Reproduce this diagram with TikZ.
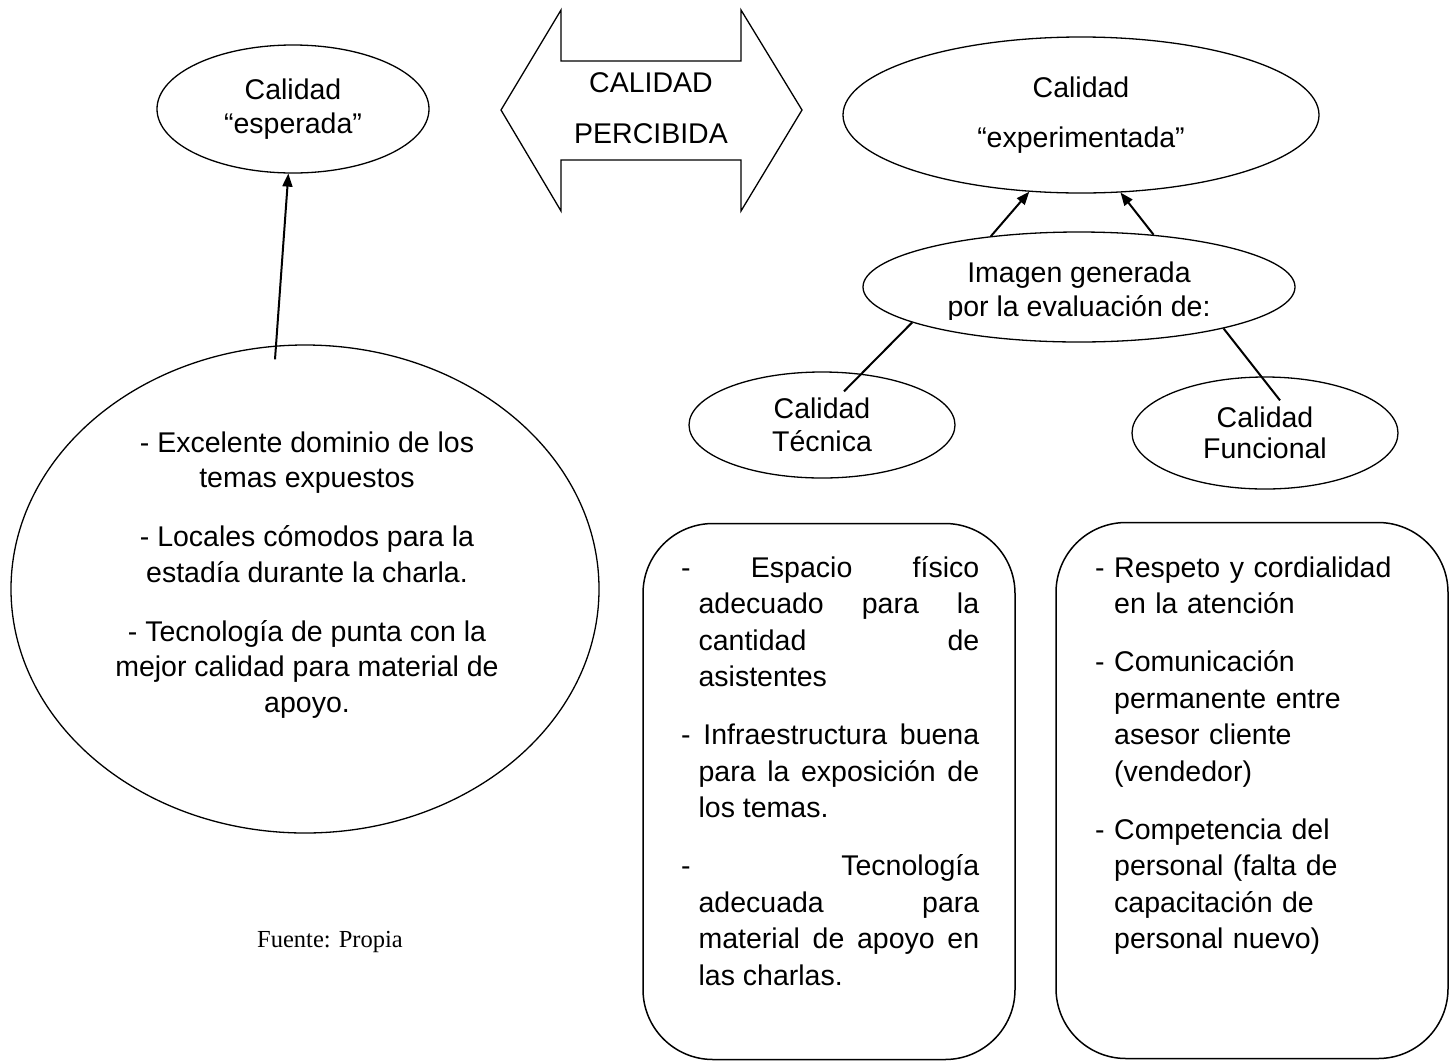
\documentclass[tikz,border=0pt]{standalone}
\usepackage{fontspec}
\setmainfont{Liberation Sans}
\newfontfamily\fuentefam{Liberation Serif}
\usetikzlibrary{shapes.geometric,arrows.meta,positioning}

\newlength\guionw
\newcommand{\guion}{\hangindent=\guionw\hangafter=1\relax\strut-\ }

\begin{document}
\begin{tikzpicture}[x=1pt,y=-1pt,
  elip/.style={ellipse,draw,line width=1.3pt,inner sep=0pt,align=center},
  caja/.style={draw,line width=1.5pt,rounded corners=70pt,minimum height=536pt},
  lista/.style={inner sep=0pt,anchor=north west,font=\fontsize{28.5}{36.5}\selectfont,
    execute at begin node={\setlength\parskip{21.5pt}\settowidth\guionw{-\ }\tolerance=10000 \hbadness=10000 }},
  flecha/.style={line width=2pt,-{Triangle[length=13pt,width=10pt]}},
  linea/.style={line width=2pt}]
\useasboundingbox (0,0) rectangle (1453,1061);

% calidad esperada
\node[elip,minimum width=272,minimum height=128,font=\fontsize{28.5}{34}\selectfont] (esp) at (293,109) {Calidad\\“esperada”};
\node[elip,minimum width=588,minimum height=488] (big) at (305,589) {};
\node[align=center,font=\fontsize{28.5}{35.5}\selectfont] (bigtxt) at (307,575) {- Excelente dominio de los\\temas expuestos\\[23.5pt]- Locales cómodos para la\\estadía durante la charla.\\[23.5pt]- Tecnología de punta con la\\mejor calidad para material de\\apoyo.};
\node[font=\fuentefam\fontsize{24.5}{28}\selectfont] (fuente) at (330,942) {Fuente: Propia};

% calidad percibida
\draw[line width=1.3pt] (501,110) -- (561,10) -- (561,61) -- (741,61) -- (741,10) -- (802,110)
  -- (741,211) -- (741,160) -- (561,160) -- (561,211) -- cycle;
\node[align=center,font=\fontsize{28.5}{51}\selectfont] (percib) at (651,108) {CALIDAD\\PERCIBIDA};

% calidad experimentada
\node[elip,minimum width=476,minimum height=156,font=\fontsize{28.5}{50}\selectfont] (exp) at (1081,115) {Calidad\\“experimentada”};
\node[elip,minimum width=432,minimum height=110] (imag) at (1079,287) {};
\begin{scope}
\clip (870,240) rectangle (1290,319);
\node[align=center,font=\fontsize{28.5}{34}\selectfont] (imagtxt) at (1079,292) {Imagen generada\\por la evaluación de:};
\end{scope}
\node[elip,minimum width=266,minimum height=106,font=\fontsize{28.5}{33}\selectfont] (tec) at (822,425) {Calidad\\Técnica};
\node[elip,minimum width=266,minimum height=112,font=\fontsize{28.5}{31}\selectfont] (fun) at (1265,433) {Calidad\\Funcional};

% conectores
\coordinate (bigtop) at ([shift={(-30,15)}]big.north);
\coordinate (tecin) at ([shift={(22,20)}]tec.north);
\coordinate (funin) at ([shift={(15,24)}]fun.north);
\draw[flecha] (bigtop) -- (esp);
\draw[flecha] (imag.150) -- (exp.236);
\draw[flecha] (imag.35) -- (exp.297);
\draw[linea] (imag.192) -- (tecin);
\draw[linea] (imag.344) -- (funin);

% cajas
\node[caja,minimum width=372] (cajatec) at (829,791.5) {};
\node[caja,minimum width=392] (cajafun) at (1252,790.5) {};
\node[lista,text width=298,align=justify] (listatec) at (681,551.4) {\guion Espacio físico\linebreak adecuado para la\linebreak cantidad de\linebreak asistentes\par
\guion Infraestructura buena\linebreak para la exposición de\linebreak los temas.\par
\guion Tecnología\linebreak adecuada para\linebreak material de apoyo en\linebreak las charlas.\par};
\node[lista,text width=320,align=left] (listafun) at (1095,551.4) {\guion Respeto y cordialidad\newline en la atención\par
\guion Comunicación\newline permanente entre\newline asesor cliente\newline (vendedor)\par
\guion Competencia del\newline personal (falta de\newline capacitación de\newline personal nuevo)\par};
\end{tikzpicture}
\end{document}
